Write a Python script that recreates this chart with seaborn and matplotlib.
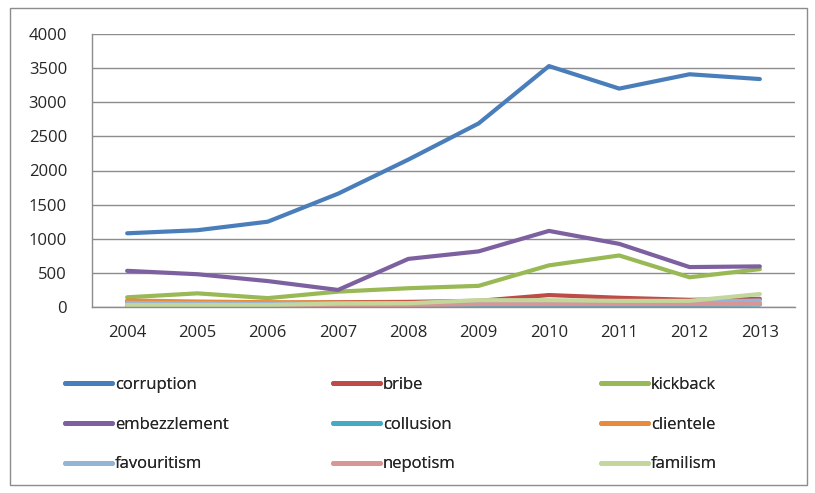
import matplotlib
matplotlib.use("Agg")
import matplotlib.pyplot as plt
import seaborn as sns
import pandas as pd
from matplotlib.patches import Rectangle
from matplotlib.lines import Line2D

years = [2004, 2005, 2006, 2007, 2008, 2009, 2010, 2011, 2012, 2013]
corruption = [1080, 1125, 1250, 1660, 2160, 2690, 3530, 3200, 3410, 3340]
bribe = [80, 70, 60, 70, 75, 90, 175, 135, 105, 120]
kickback = [142, 200, 130, 225, 275, 310, 610, 755, 435, 555]
embezzlement = [530, 480, 380, 250, 705, 815, 1115, 925, 585, 595]
collusion = [20, 20, 20, 25, 25, 30, 30, 30, 30, 35]
clientele = [95, 80, 70, 65, 60, 60, 60, 55, 55, 55]
favouritism = [60, 55, 50, 50, 55, 65, 70, 70, 75, 95]
nepotism = [10, 10, 10, 25, 30, 40, 40, 40, 40, 45]
familism = [30, 30, 30, 50, 55, 100, 100, 90, 90, 190]

series = {
    "corruption": corruption, "bribe": bribe, "kickback": kickback,
    "embezzlement": embezzlement, "collusion": collusion, "clientele": clientele,
    "favouritism": favouritism, "nepotism": nepotism, "familism": familism,
}
colors = {
    "corruption": "#4A7EBB", "bribe": "#BE4B48", "kickback": "#98B954",
    "embezzlement": "#7D60A0", "collusion": "#46AAC5", "clientele": "#E88A3C",
    "favouritism": "#95B3D7", "nepotism": "#D99694", "familism": "#C3D69B",
}

rows = []
for name, vals in series.items():
    for i, (y, v) in enumerate(zip(years, vals)):
        rows.append({"idx": i, "year": y, "value": v, "term": name})
df = pd.DataFrame(rows)

sns.set_style("white")
plt.rcParams["font.family"] = ["Open Sans", "DejaVu Sans"]

fig = plt.figure(figsize=(8.15, 4.93), dpi=100)
ax = fig.add_axes([92/815, 1-307/493, (795-92)/815, (307-34)/493])

sns.lineplot(data=df, x="idx", y="value", hue="term", palette=colors,
             hue_order=list(series.keys()), linewidth=3.0, ax=ax, legend=False)

ax.set_xlim(-0.5, len(years) - 0.5)
ax.set_ylim(0, 4000)
ax.set_yticks(range(0, 4001, 500))
ax.yaxis.grid(True, color="#8C8C8C", linewidth=1)
ax.set_axisbelow(True)
ax.set_xticks(range(len(years)))
ax.set_xticklabels([str(y) for y in years])
ax.set_xticks([i - 0.5 for i in range(len(years) + 1)], minor=True)
ax.tick_params(axis="x", which="major", length=0, labelsize=12, pad=13)
ax.tick_params(axis="x", which="minor", length=6, width=1, color="#8C8C8C", direction="out")
ax.tick_params(axis="y", length=6, width=1, color="#8C8C8C", direction="out", labelsize=12, pad=12)
ax.set_xlabel("")
ax.set_ylabel("")
for s in ["top", "right"]:
    ax.spines[s].set_visible(False)
for s in ["left", "bottom"]:
    ax.spines[s].set_color("#8C8C8C")
    ax.spines[s].set_linewidth(1)

# legend in three columns
names = list(series.keys())
handles = [Line2D([], [], color=colors[n], linewidth=3.5) for n in names]
col_x = [65/815, 333/815, 601/815]
for c in range(3):
    idxs = [c, c + 3, c + 6]
    leg = fig.legend([handles[i] for i in idxs], [names[i] for i in idxs],
                     loc="upper left", bbox_to_anchor=(col_x[c], 1 - 377/493),
                     frameon=False, fontsize=12, handlelength=2.8,
                     handletextpad=0.2, labelspacing=1.42, borderaxespad=0,
                     borderpad=0)
    fig.add_artist(leg)

fig.add_artist(Rectangle((10/815, 1-485/493), 797/815, 477/493,
                         transform=fig.transFigure, fill=False,
                         edgecolor="#8C8C8C", linewidth=1))

fig.savefig("out.png", dpi=100)
